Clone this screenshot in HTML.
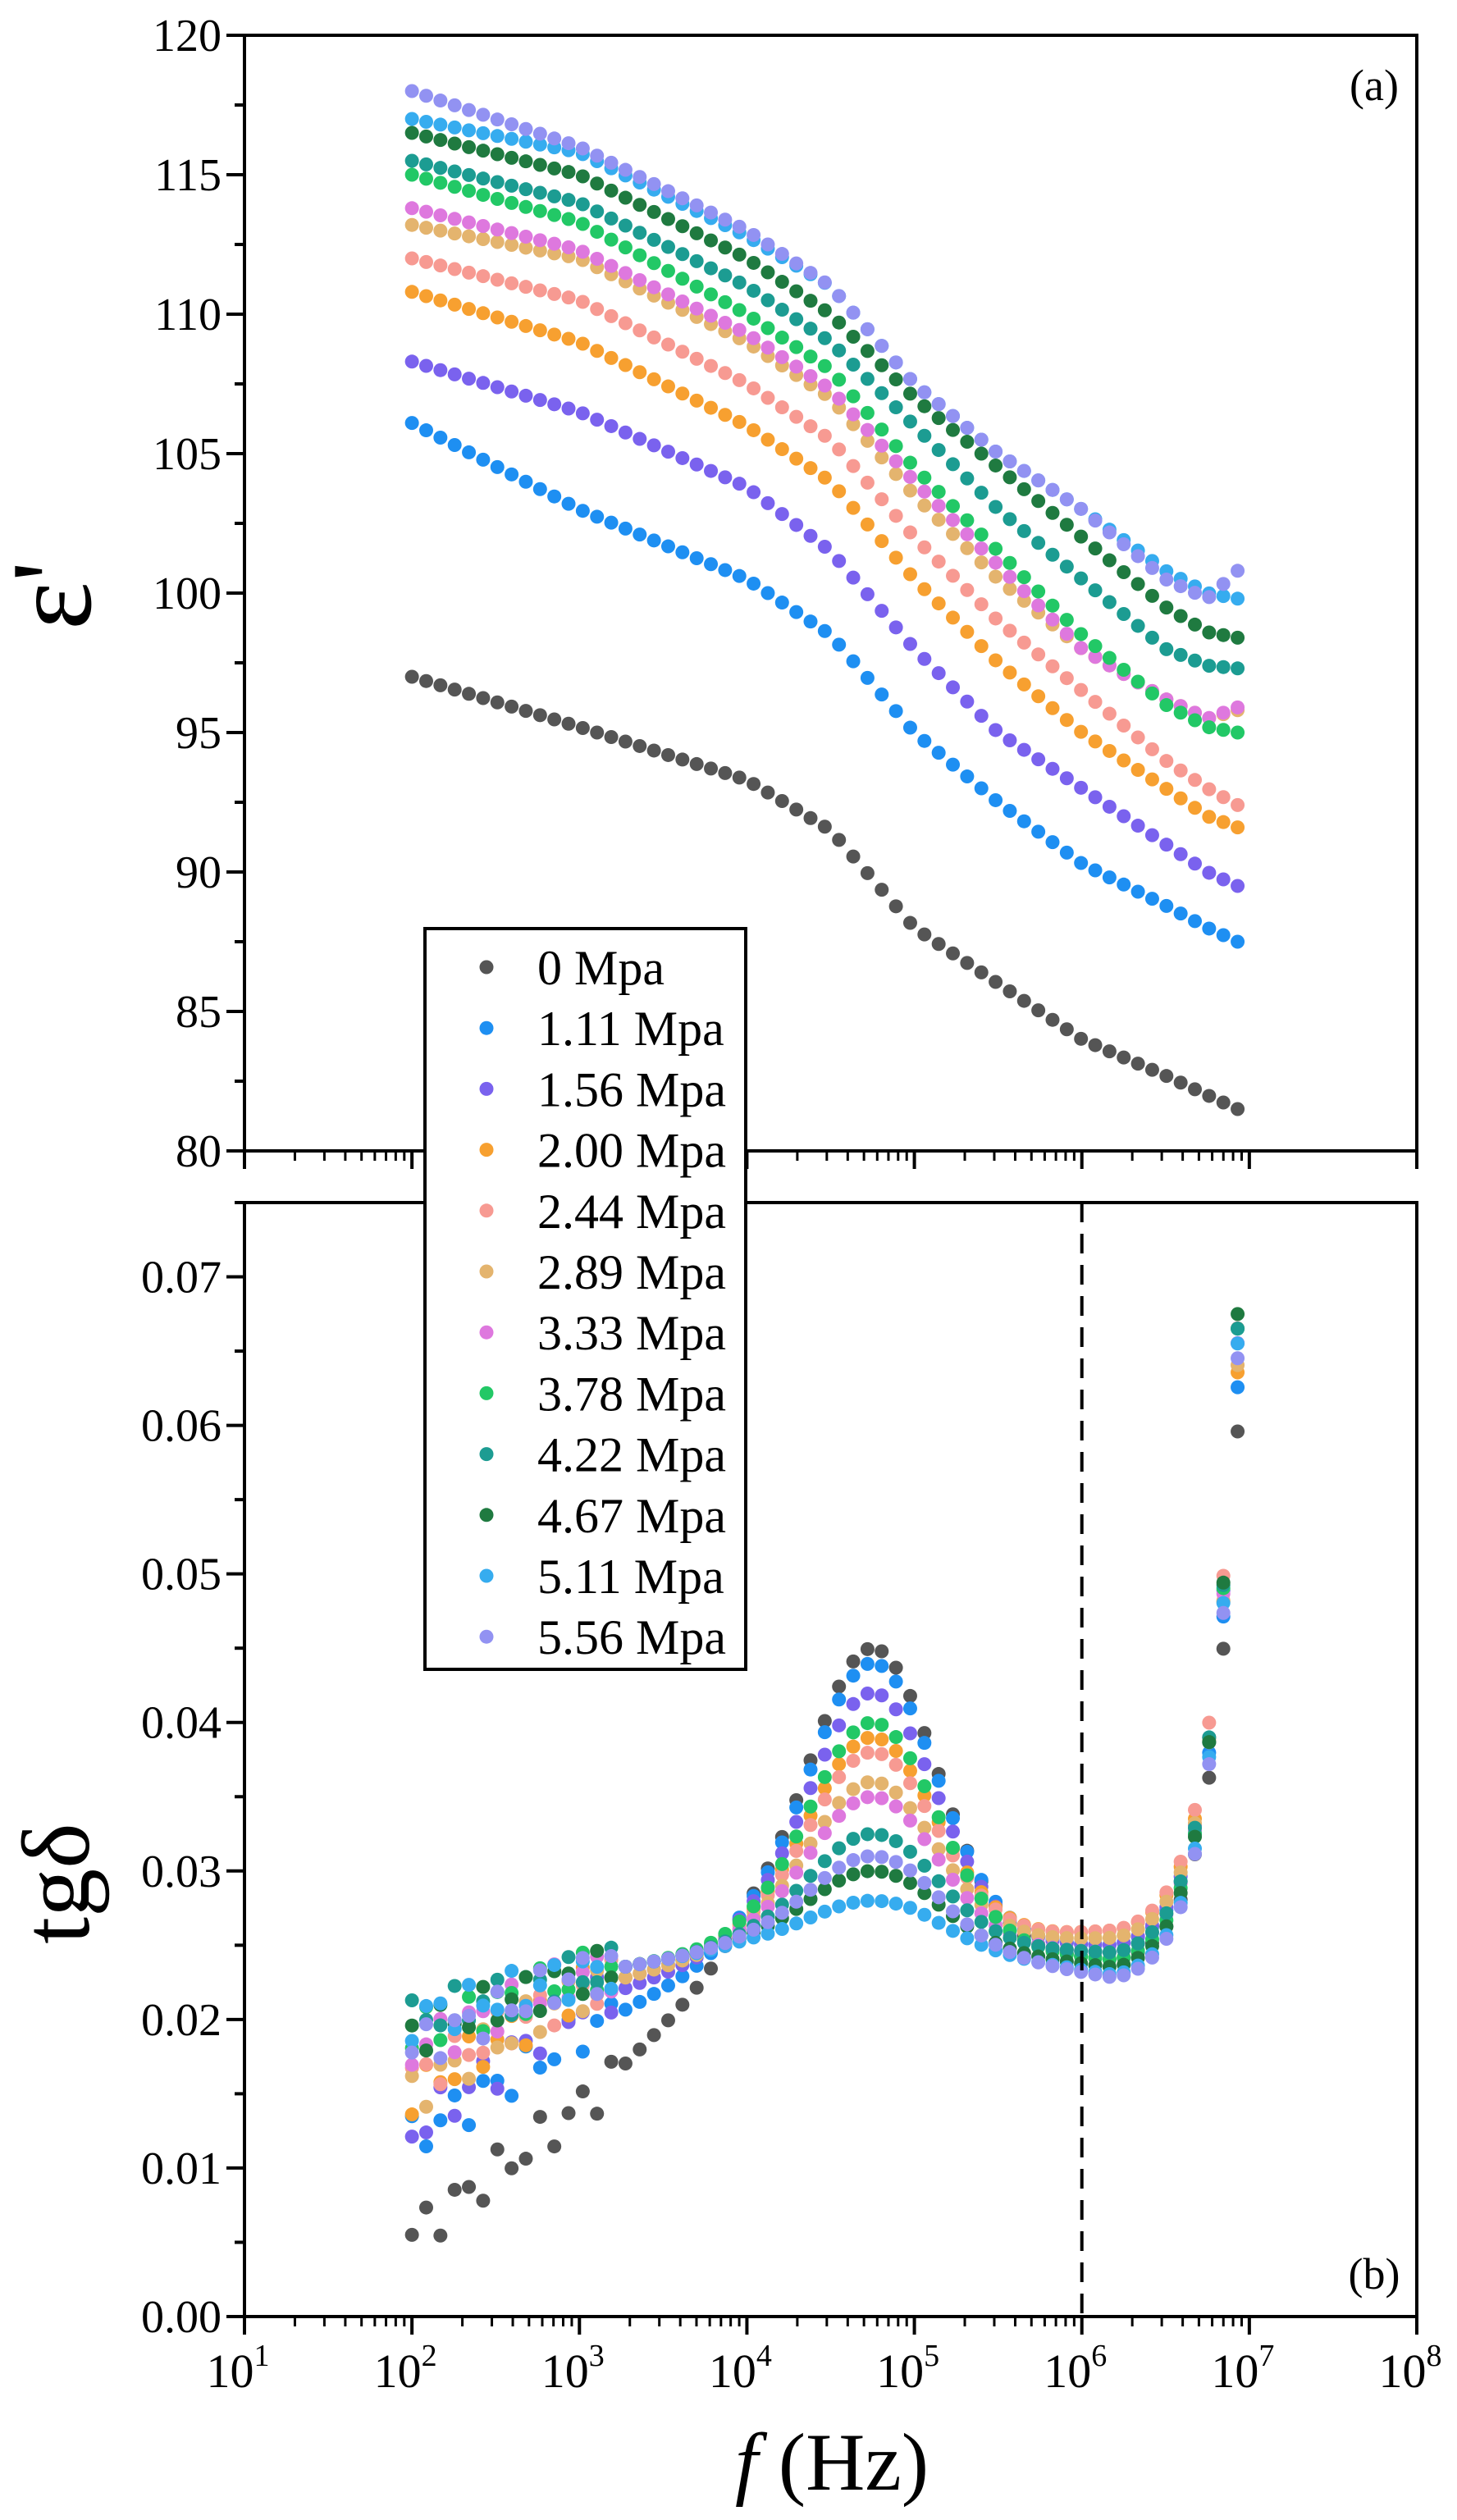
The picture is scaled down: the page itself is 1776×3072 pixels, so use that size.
<!DOCTYPE html>
<html><head><meta charset="utf-8"><style>
html,body{margin:0;padding:0;background:#fff;}
svg{display:block;font-family:"Liberation Serif",serif;}
</style></head><body>
<svg id="s" width="1776" height="3072" viewBox="0 0 1776 3072" xmlns="http://www.w3.org/2000/svg">
<text x="1675" y="122" font-size="54" text-anchor="middle">(a)</text>
<text x="1675" y="2790" font-size="54" text-anchor="middle">(b)</text>
<text transform="translate(110,726) rotate(-90)" font-size="140" text-anchor="middle">ε'</text>
<text transform="translate(108,2296) rotate(-90)" font-size="118" text-anchor="middle">tgδ</text>
<text x="1014" y="3035" font-size="100" text-anchor="middle"><tspan font-style="italic">f</tspan> (Hz)</text>
</svg>
<script>
(function(){
var s=document.getElementById('s'),NS='http://www.w3.org/2000/svg';
function el(t,a,txt){var e=document.createElementNS(NS,t);for(var k in a)e.setAttribute(k,a[k]);if(txt!==undefined)e.textContent=txt;s.appendChild(e);return e;}
var L=298,R=1727,T1=43,B1=1403,T2=1466,B2=2824;
function X(lx){return L+(lx-1)*(R-L)/7;}
function Y1(v){return T1+(120-v)*(B1-T1)/40;}
function Y2(v){return B2-v*(B2-T2)/0.075;}
var cols=['#555555','#1e8ff2','#7a62ee','#f7a030','#f79a92','#e4b46e','#de78de','#22c866','#1c9c92','#1f7a40','#36acef','#9292f2'];
var names=['0','1.11','1.56','2.00','2.44','2.89','3.33','3.78','4.22','4.67','5.11','5.56'];
var kx=[2,3,4,4.5,5,5.5,6,6.5,6.75,6.93];
var ka=[
[97,95.2,93.3,91.5,88,86,84,82.7,82,81.5],
[106.1,103,100.5,98.5,95,92.5,90.3,88.8,88,87.5],
[108.3,106.5,103.8,101.5,98,95,93,91,90,89.5],
[110.8,109,106,104,100.5,97.5,95,93,92,91.6],
[112,110.5,107.5,105.5,102,99,96.5,94,93,92.4],
[113.2,112,109,107,103.5,100.5,98,96.2,95.5,95.8],
[113.8,112.3,109.3,107.3,104,101,98,96.2,95.5,95.9],
[115,113.3,110,108,104.5,101.5,98.5,96,95.2,95],
[115.5,114,111,109,106,103,100.5,98,97.4,97.3],
[116.5,115,112,110,107,104.5,102,99.5,98.6,98.4],
[117,115.8,112.8,111,107.5,105,103,100.8,100,99.8],
[118,116,113,111,107.5,105,103,100.5,99.8,100.8]];
var b0=[0.0055,0.012,0.0125,0.015,0.016,0.015,0.018,0.019,0.02,0.019,0.02,0.018];
var b3=[0.014,0.019,0.021,0.022,0.022,0.022,0.023,0.023,0.023,0.023,0.023,0.023];
var pk=[0.045,0.044,0.042,0.039,0.038,0.036,0.035,0.040,0.0325,0.030,0.028,0.031];
var mn=[0.024,0.025,0.025,0.026,0.026,0.0255,0.0245,0.024,0.0245,0.0235,0.023,0.0228];
var tops=[0.060,0.063,0.066,0.064,0.067,0.0645,0.066,0.067,0.067,0.068,0.066,0.065];
function interp(xs,ys,x){if(x<=xs[0])return ys[0];for(var i=1;i<xs.length;i++)if(x<=xs[i]){var t=(x-xs[i-1])/(xs[i]-xs[i-1]);return ys[i-1]+t*(ys[i]-ys[i-1]);}return ys[ys.length-1];}
function tg(i,x){
 var base=interp([2,3,4,5,6.2],[b0[i],b3[i],0.025,0.025,mn[i]],x);
 var w=0.38;
 var d=x-4.75;
 var p=(pk[i]-0.025)*Math.exp(-d*d/(2*w*w));
 var A=tops[i]-mn[i];
 var r=Math.max(0,A*Math.exp((x-6.93)/0.163)-A*Math.exp((6.2-6.93)/0.163));
 return base+p+r;}
var lxs=[];var n=Math.round((6.93-2)/0.085);for(var k=0;k<=n;k++)lxs.push(2+k*(4.93/n));
for(var i=0;i<12;i++){for(var j=0;j<lxs.length;j++){var x=lxs[j];
 var jit=(x<3.2)?0.0015*Math.sin(j*2.3+i*1.7):0;
 el('circle',{cx:X(x),cy:Y1(interp(kx,ka[i],x)),r:8.5,fill:cols[i]});
 el('circle',{cx:X(x),cy:Y2(tg(i,x)+jit),r:8.5,fill:cols[i]});}}
el('line',{x1:X(6),x2:X(6),y1:T2,y2:B2,stroke:'#000','stroke-width':4,'stroke-dasharray':'24,14'});
[[T1,B1],[T2,B2]].forEach(function(p){el('rect',{x:L,y:p[0],width:R-L,height:p[1]-p[0],fill:'none',stroke:'#000','stroke-width':4});
 for(var d=1;d<8;d++){el('line',{x1:X(d),x2:X(d),y1:p[1],y2:p[1]+22,stroke:'#000','stroke-width':4});
  for(var m=2;m<10;m++){var xx=X(d+Math.log10(m));if(d<7)el('line',{x1:xx,x2:xx,y1:p[1],y2:p[1]+12,stroke:'#000','stroke-width':3});}}
 el('line',{x1:R,x2:R,y1:p[1],y2:p[1]+22,stroke:'#000','stroke-width':4});});
for(var v=80;v<=120;v+=2.5){var y=Y1(v),maj=(v%5==0);el('line',{x1:L,x2:L-(maj?22:12),y1:y,y2:y,stroke:'#000','stroke-width':4});
 if(maj)el('text',{x:L-28,y:y+19,'font-size':56,'text-anchor':'end'},String(v));}
for(var k=0;k<=15;k++){var v=k*0.005,y=Y2(v),maj=(k%2==0);el('line',{x1:L,x2:L-(maj?22:12),y1:y,y2:y,stroke:'#000','stroke-width':4});
 if(maj)el('text',{x:L-28,y:y+19,'font-size':56,'text-anchor':'end'},v.toFixed(2));}
for(var d=1;d<=8;d++){var t=el('text',{x:X(d)-8,y:2910,'font-size':58,'text-anchor':'middle'},'10');var sp=document.createElementNS(NS,'tspan');sp.setAttribute('dy','-26');sp.setAttribute('font-size','38');sp.textContent=String(d);t.appendChild(sp);}
el('rect',{x:518,y:1132,width:391,height:903,fill:'#fff',stroke:'#000','stroke-width':4});
for(var i=0;i<12;i++){var y=1179+i*74.2;el('circle',{cx:593,cy:y,r:8.5,fill:cols[i]});el('text',{x:655,y:y+21,'font-size':60},names[i]+' Mpa');}
})();
</script>
</body></html>
